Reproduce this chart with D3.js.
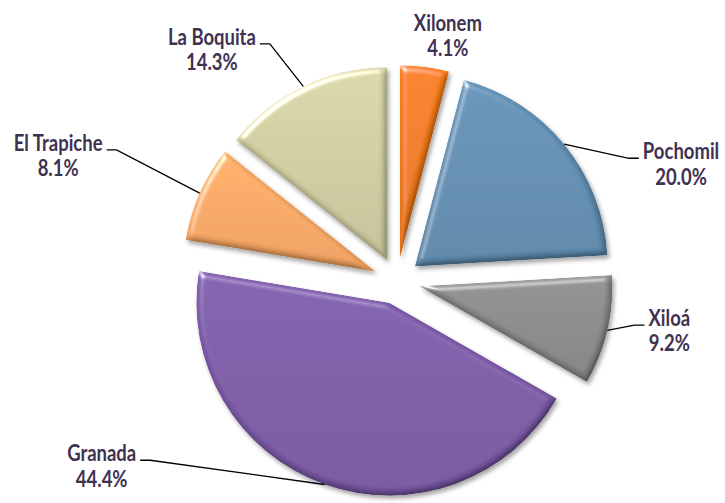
<!DOCTYPE html>
<html>
<head>
<meta charset="utf-8">
<script src="https://cdn.jsdelivr.net/npm/d3@7/dist/d3.min.js"></script>
<style>
  html, body { margin: 0; padding: 0; background: #fff; }
  svg { display: block; }
</style>
</head>
<body>
<div id="chart"></div>
<script>
// slices go clockwise from 12 o'clock
const names = ["Xilonem", "Pochomil", "Xiloá", "Granada", "El Trapiche", "La Boquita"];
const shares = [4.1, 20.0, 9.2, 44.4, 8.1, 14.3];
const colors = ["#F07A18", "#5F8DB1", "#898989", "#7B58A6", "#F9A762", "#D0CDA1"];
// where each label sits: [angle in degrees, distance from pie centre]
const labelSpots = [[11.5, 255], [66.8, 309], [99.4, 276], [238.6, 346], [291, 363], [321.9, 300]];

function ExplodedPie(svg, cx, cy, radius, explode) {
  this.svg = svg;
  this.cx = cx;
  this.cy = cy;
  this.radius = radius;
  this.explode = explode;
  this.textColor = "#3F3151";
  this.textScale = [0.88, 1.1];
}

ExplodedPie.prototype.addDefs = function() {
  let defs = this.svg.append("defs");

  let f = defs.append("filter")
    .attr("id", "bevel")
    .attr("x", "-10%").attr("y", "-10%")
    .attr("width", "125%").attr("height", "125%");
  f.append("feGaussianBlur").attr("in", "SourceAlpha").attr("stdDeviation", 3).attr("result", "blur");
  let diff = f.append("feDiffuseLighting")
    .attr("in", "blur").attr("surfaceScale", 3.5).attr("diffuseConstant", 1.16)
    .attr("lighting-color", "#fff").attr("result", "diff");
  diff.append("feDistantLight").attr("azimuth", 235).attr("elevation", 60);
  f.append("feComposite").attr("in", "diff").attr("in2", "SourceGraphic")
    .attr("operator", "arithmetic").attr("k1", 1).attr("result", "shaded");
  let spec = f.append("feSpecularLighting")
    .attr("in", "blur").attr("surfaceScale", 3.5).attr("specularConstant", 0.75)
    .attr("specularExponent", 35).attr("lighting-color", "#fff").attr("result", "spec");
  spec.append("feDistantLight").attr("azimuth", 235).attr("elevation", 40);
  f.append("feComposite").attr("in", "spec").attr("in2", "SourceAlpha")
    .attr("operator", "in").attr("result", "specIn");
  f.append("feComposite").attr("in", "shaded").attr("in2", "specIn")
    .attr("operator", "arithmetic").attr("k2", 1).attr("k3", 1).attr("result", "lit");
  f.append("feComposite").attr("in", "lit").attr("in2", "SourceAlpha")
    .attr("operator", "in").attr("result", "litIn");
  f.append("feGaussianBlur").attr("in", "SourceAlpha").attr("stdDeviation", 2).attr("result", "sb");
  f.append("feOffset").attr("in", "sb").attr("dx", 2).attr("dy", 3).attr("result", "so");
  f.append("feFlood").attr("flood-color", "#000").attr("flood-opacity", 0.35);
  f.append("feComposite").attr("in2", "so").attr("operator", "in").attr("result", "shadow");
  let merge = f.append("feMerge");
  merge.append("feMergeNode").attr("in", "shadow");
  merge.append("feMergeNode").attr("in", "litIn");

  colors.forEach(function(c, i) {
    let g = defs.append("linearGradient")
      .attr("id", "grad-" + i)
      .attr("x1", 0).attr("y1", 0).attr("x2", 0).attr("y2", 1);
    g.append("stop").attr("offset", "0%").attr("stop-color", d3.color(c).brighter(0.12));
    g.append("stop").attr("offset", "100%").attr("stop-color", d3.color(c).darker(0.18));
  });
};

ExplodedPie.prototype.draw = function() {
  let this_class = this;
  this.addDefs();

  let pie = d3.pie().sort(null).value(function(d) { return d; });
  let arcs = pie(shares);
  let arc = d3.arc().innerRadius(0).outerRadius(this.radius);

  let shift = function(d, r) {
    let mid = (d.startAngle + d.endAngle) / 2;
    return [Math.sin(mid) * r, -Math.cos(mid) * r];
  };

  let root = this.svg.append("g")
    .attr("transform", "translate(" + this.cx + "," + this.cy + ")");

  root.selectAll("path.slice")
    .data(arcs)
    .enter()
    .append("path")
    .attr("class", "slice")
    .attr("transform", function(d) {
      let s = shift(d, this_class.explode);
      return "translate(" + s[0] + "," + s[1] + ")";
    })
    .attr("d", arc)
    .style("fill", function(d, i) { return "url(#grad-" + i + ")"; })
    .attr("filter", "url(#bevel)");

  let labels = root.selectAll("g.label")
    .data(arcs)
    .enter()
    .append("g")
    .attr("class", "label")
    .attr("transform", function(d, i) {
      let a = labelSpots[i][0] * Math.PI / 180;
      let r = labelSpots[i][1];
      return "translate(" + Math.sin(a) * r + "," + -Math.cos(a) * r + ")";
    });

  let txt = labels.append("g")
    .attr("transform", "scale(" + this.textScale.join(",") + ")")
    .append("text")
    .attr("text-anchor", "middle")
    .style("font-family", "Lato, 'Noto Sans', sans-serif")
    .style("font-weight", "bold")
    .style("font-size", "21px")
    .style("fill", this.textColor);
  txt.append("tspan").attr("x", 0).attr("y", 0)
    .text(function(d, i) { return names[i]; });
  txt.append("tspan").attr("x", 0).attr("y", 23)
    .text(function(d) { return d.value.toFixed(1) + "%"; });

  // leader lines for labels that sit away from their slice
  labels.each(function(d, i) {
    let a = labelSpots[i][0] * Math.PI / 180;
    let r = labelSpots[i][1];
    let lx = Math.sin(a) * r, ly = -Math.cos(a) * r;
    let s = shift(d, this_class.explode);
    let e = shift(d, this_class.radius);
    let px = s[0] + e[0], py = s[1] + e[1];
    if (Math.hypot(lx - px, ly - py) < 50) return;
    let w = d3.select(this).select("tspan").node().getComputedTextLength() * this_class.textScale[0];
    let right = lx > px;
    let endX = right ? lx - w / 2 - 4 : lx + w / 2 + 4;
    let kneeX = right ? endX - 10 : endX + 10;
    let endY = ly - 1;
    root.append("path")
      .attr("d", "M" + px + "," + py + "L" + kneeX + "," + endY + "L" + endX + "," + endY)
      .style("fill", "none")
      .style("stroke", "#000")
      .style("stroke-width", 1.3);
  });
};

let svg = d3.select("#chart").append("svg")
  .attr("width", 725)
  .attr("height", 503);
svg.append("rect").attr("width", 725).attr("height", 503).style("fill", "#fff");

let chart = new ExplodedPie(svg, 397, 281, 193, 23);
chart.draw();
</script>
</body>
</html>
